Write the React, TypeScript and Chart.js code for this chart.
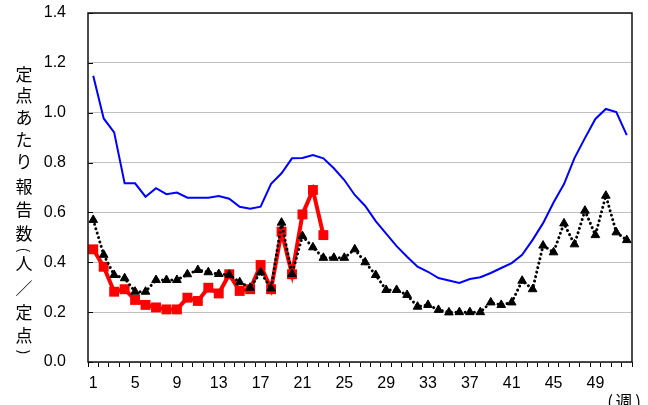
import React, { useEffect, useRef } from "react";
import { Chart, registerables } from "chart.js";

Chart.register(...registerables);

const weeks: string[] = [
  "1","2","3","4","5","6","7","8","9","10","11","12","13","14","15","16","17","18","19","20",
  "21","22","23","24","25","26","27","28","29","30","31","32","33","34","35","36","37","38","39","40",
  "41","42","43","44","45","46","47","48","49","50","51","52",
];

// 過去5年平均（青線）
const averageSeries: number[] = [
  1.148, 0.977, 0.921, 0.717, 0.717, 0.663, 0.697, 0.673, 0.68, 0.659,
  0.659, 0.659, 0.666, 0.655, 0.623, 0.615, 0.623, 0.715, 0.757, 0.817,
  0.818, 0.83, 0.817, 0.777, 0.73, 0.67, 0.626, 0.565, 0.515, 0.465,
  0.422, 0.382, 0.362, 0.337, 0.327, 0.317, 0.333, 0.34, 0.357, 0.377,
  0.397, 0.43, 0.49, 0.557, 0.64, 0.714, 0.818, 0.898, 0.975, 1.015,
  1.003, 0.91,
];

// 前年（黒点線・三角）
const lastYearSeries: number[] = [
  0.57, 0.43, 0.349, 0.336, 0.282, 0.282, 0.329, 0.329, 0.329, 0.352,
  0.369, 0.36, 0.353, 0.35, 0.32, 0.298, 0.36, 0.295, 0.559, 0.353,
  0.505, 0.46, 0.418, 0.418, 0.418, 0.452, 0.4, 0.349, 0.289, 0.289,
  0.269, 0.222, 0.229, 0.209, 0.199, 0.2, 0.2, 0.2, 0.239, 0.229,
  0.239, 0.326, 0.292, 0.467, 0.44, 0.556, 0.472, 0.607, 0.509, 0.667,
  0.52, 0.489,
];

// 今年（赤・四角）
const thisYearSeries: number[] = [
  0.452, 0.382, 0.282, 0.292, 0.249, 0.229, 0.219, 0.211, 0.211, 0.258,
  0.245, 0.298, 0.275, 0.352, 0.285, 0.292, 0.389, 0.292, 0.523, 0.352,
  0.592, 0.69, 0.509,
];

const yTicks: number[] = [0, 0.2, 0.4, 0.6, 0.8, 1.0, 1.2, 1.4];
const titleChars: string[] = ["定","点","あ","た","り","報","告","数","(","人","／","定","点",")"];
const titleCharY: number[] = [75, 96, 118, 140, 162, 187, 210, 234, 250, 264, 289, 313, 336, 352];
const xUnitParts: string[] = ["(", "週", ")"];

const decorPlugin = {
  id: "decor",
  afterDraw(chart: any) {
    const { ctx, chartArea } = chart;
    const ys = chart.scales.y;
    ctx.save();
    ctx.strokeStyle = "#000";
    ctx.lineWidth = 1;
    yTicks.forEach((t) => {
      const py = Math.round(ys.getPixelForValue(t)) + 0.5;
      ctx.beginPath();
      ctx.moveTo(chartArea.left, py);
      ctx.lineTo(chartArea.left + 5, py);
      ctx.stroke();
    });
    ctx.lineWidth = 1.5;
    ctx.strokeStyle = "#111";
    ctx.strokeRect(chartArea.left, chartArea.top, chartArea.right - chartArea.left, chartArea.bottom - chartArea.top);
    ctx.fillStyle = "#000";
    ctx.textAlign = "center";
    ctx.textBaseline = "middle";
    titleChars.forEach((c, i) => {
      if (c === "(" || c === ")") {
        ctx.save();
        ctx.font = '14px "Noto Sans CJK JP"';
        ctx.translate(24, titleCharY[i]);
        ctx.rotate(Math.PI / 2);
        ctx.fillText(c, 0, 0);
        ctx.restore();
      } else {
        ctx.font = '17px "Noto Sans CJK JP"';
        ctx.fillText(c, 24, titleCharY[i]);
      }
    });
    ctx.font = '17px "Noto Sans CJK JP"';
    const ux = [610, 624, 638];
    xUnitParts.forEach((c, i) => ctx.fillText(c, ux[i], 402));
    ctx.restore();
  },
};

export default function App() {
  const ref = useRef<HTMLCanvasElement | null>(null);
  useEffect(() => {
    if (!ref.current) return;
    const chart = new Chart(ref.current, {
      type: "line",
      data: {
        labels: weeks,
        datasets: [
          {
            label: "lastYear",
            data: lastYearSeries,
            borderColor: "#000",
            backgroundColor: "#000",
            borderWidth: 3,
            borderDash: [0.01, 4.6],
            borderCapStyle: "round",
            pointStyle: "triangle",
            pointRadius: 5,
            pointBorderWidth: 1,
            pointBackgroundColor: "#000",
            pointBorderColor: "#000",
            tension: 0,
            order: 0,
          },
          {
            label: "thisYear",
            data: thisYearSeries,
            borderColor: "#ff0000",
            backgroundColor: "#ff0000",
            borderWidth: 4,
            pointStyle: "rect",
            pointRadius: 7,
            pointBorderWidth: 0,
            pointBackgroundColor: "#ff0000",
            tension: 0,
            order: 1,
          },
          {
            label: "average",
            data: averageSeries,
            borderColor: "#0000ff",
            backgroundColor: "#0000ff",
            borderWidth: 2,
            pointRadius: 0,
            tension: 0,
            order: 2,
          },
        ],
      },
      options: {
        animation: false,
        responsive: true,
        maintainAspectRatio: false,
        layout: { padding: { top: 13, right: 16, left: 0, bottom: 0 } },
        plugins: { legend: { display: false }, tooltip: { enabled: false } },
        scales: {
          x: {
            offset: true,
            grid: { offset: true, drawOnChartArea: false, drawTicks: true, tickLength: 5, color: "#000" },
            border: { display: false },
            ticks: {
              autoSkip: false,
              maxRotation: 0,
              padding: 7,
              color: "#000",
              font: { family: '"Liberation Sans", "Noto Sans CJK JP"', size: 16 },
              callback: (_v: any, i: number) => (i % 4 === 0 ? weeks[i] : ""),
            },
            afterFit: (s: any) => { s.height = 43; },
          },
          y: {
            min: 0,
            max: 1.4,
            grid: { color: "#c0c0c0", drawTicks: true, tickLength: 20, tickColor: "rgba(0,0,0,0)", lineWidth: 1 },
            border: { display: false },
            ticks: {
              stepSize: 0.2,
              padding: 2,
              color: "#000",
              font: { family: '"Liberation Sans", "Noto Sans CJK JP"', size: 16 },
              callback: (v: any) => Number(v).toFixed(1),
            },
            afterFit: (s: any) => { s.width = 88; },
          },
        },
      },
      plugins: [decorPlugin],
    });
    return () => chart.destroy();
  }, []);
  return (
    <div style={{ position: "absolute", left: 0, top: 0, width: 648, height: 405, background: "#fff" }}>
      <canvas ref={ref} />
    </div>
  );
}
